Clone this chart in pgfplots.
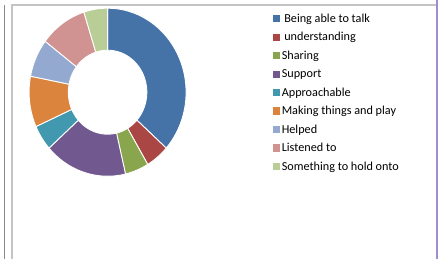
\documentclass[border=0pt]{standalone}
\usepackage{pgfplots}
\pgfplotsset{compat=1.18}
\usepackage{pgfplotstable}
\usepackage{fontspec}
\setmainfont{Carlito}
\definecolor{c0}{HTML}{4572A7}
\definecolor{c1}{HTML}{AA4643}
\definecolor{c2}{HTML}{89A54E}
\definecolor{c3}{HTML}{71588F}
\definecolor{c4}{HTML}{4198AF}
\definecolor{c5}{HTML}{DB843D}
\definecolor{c6}{HTML}{93A9CF}
\definecolor{c7}{HTML}{D19392}
\definecolor{c8}{HTML}{B9CD96}
\definecolor{frame1}{HTML}{8A8A8A}
\definecolor{frame2}{HTML}{C4C4C4}
\definecolor{frame3}{HTML}{A08CD0}
\pgfplotstableread{
value
15
2
2
7
2
4
3
4
2
}\slices
\def\total{41}
\begin{document}
\begin{tikzpicture}
\useasboundingbox (0,0) rectangle (438bp,259bp);
\gdef\cum{0}
\begin{axis}[
  at={(0,0)}, anchor=south west,
  width=438bp, height=259bp, scale only axis,
  xmin=0, xmax=438, ymin=0, ymax=259,
  hide axis, clip=false,
  declare function={P(\t)=min(max(\t,0),1)-min(max(\t-2,0),1);
                    Q(\t)=min(max(\t-1,0),1)-min(max(\t-3,0),1);},
  legend image code/.code={\fill[#1, draw=none] (0bp,0bp) rectangle (7.3bp,7.3bp);},
  legend style={at={(axis cs:273,245)}, anchor=north west, draw=none, fill=none,
    inner sep=0pt, outer sep=0pt, row sep=7.46bp, column sep=0pt,
    font=\fontsize{12.2bp}{14bp}\selectfont,
    nodes={inner sep=0pt, text height=8.5bp, text depth=2.5bp, anchor=base west},
    cells={anchor=west}},
  legend cell align=left,
]
\pgfplotsinvokeforeach{0,...,8}{
  \pgfplotstablegetelem{#1}{value}\of\slices
  \pgfmathsetmacro\a{90-360*\cum/\total}
  \pgfmathsetmacro\newcum{\cum+\pgfplotsretval}
  \pgfmathsetmacro\b{90-360*\newcum/\total}
  \xdef\cum{\newcum}
  \edef\temp{\noexpand\addplot[fill=c#1, draw=white, line width=0.9pt, line join=round,
     domain=0:4, samples=161, forget plot]
     ({107.6+78.5*(1-0.5*Q(x))*cos(\a+(\b-(\a))*P(x))},
      {166.8+84*(1-0.5*Q(x))*sin(\a+(\b-(\a))*P(x))});}
  \temp
}
\addlegendimage{fill=c0, draw=none}\addlegendentry{\hspace{4bp}Being able to talk}
\addlegendimage{fill=c1, draw=none}\addlegendentry{\hspace{4bp}understanding}
\addlegendimage{fill=c2, draw=none}\addlegendentry{\hspace{1.5bp}Sharing}
\addlegendimage{fill=c3, draw=none}\addlegendentry{\hspace{1.5bp}Support}
\addlegendimage{fill=c4, draw=none}\addlegendentry{\hspace{1.5bp}Approachable}
\addlegendimage{fill=c5, draw=none}\addlegendentry{\hspace{1.5bp}Making things and play}
\addlegendimage{fill=c6, draw=none}\addlegendentry{\hspace{1.5bp}Helped}
\addlegendimage{fill=c7, draw=none}\addlegendentry{\hspace{1.5bp}Listened to}
\addlegendimage{fill=c8, draw=none}\addlegendentry{\hspace{1.5bp}Something to hold onto}
\draw[frame1, line width=1bp] (axis cs:4.3,0) -- (axis cs:4.3,253.5);
\draw[frame2, line width=2bp] (axis cs:11.7,0) -- (axis cs:11.7,254.5);
\draw[frame2, line width=2bp] (axis cs:10.7,253.5) -- (axis cs:436.5,253.5);
\draw[frame3, line width=1.2bp] (axis cs:437,0) -- (axis cs:437,259);
\end{axis}
\end{tikzpicture}
\end{document}
